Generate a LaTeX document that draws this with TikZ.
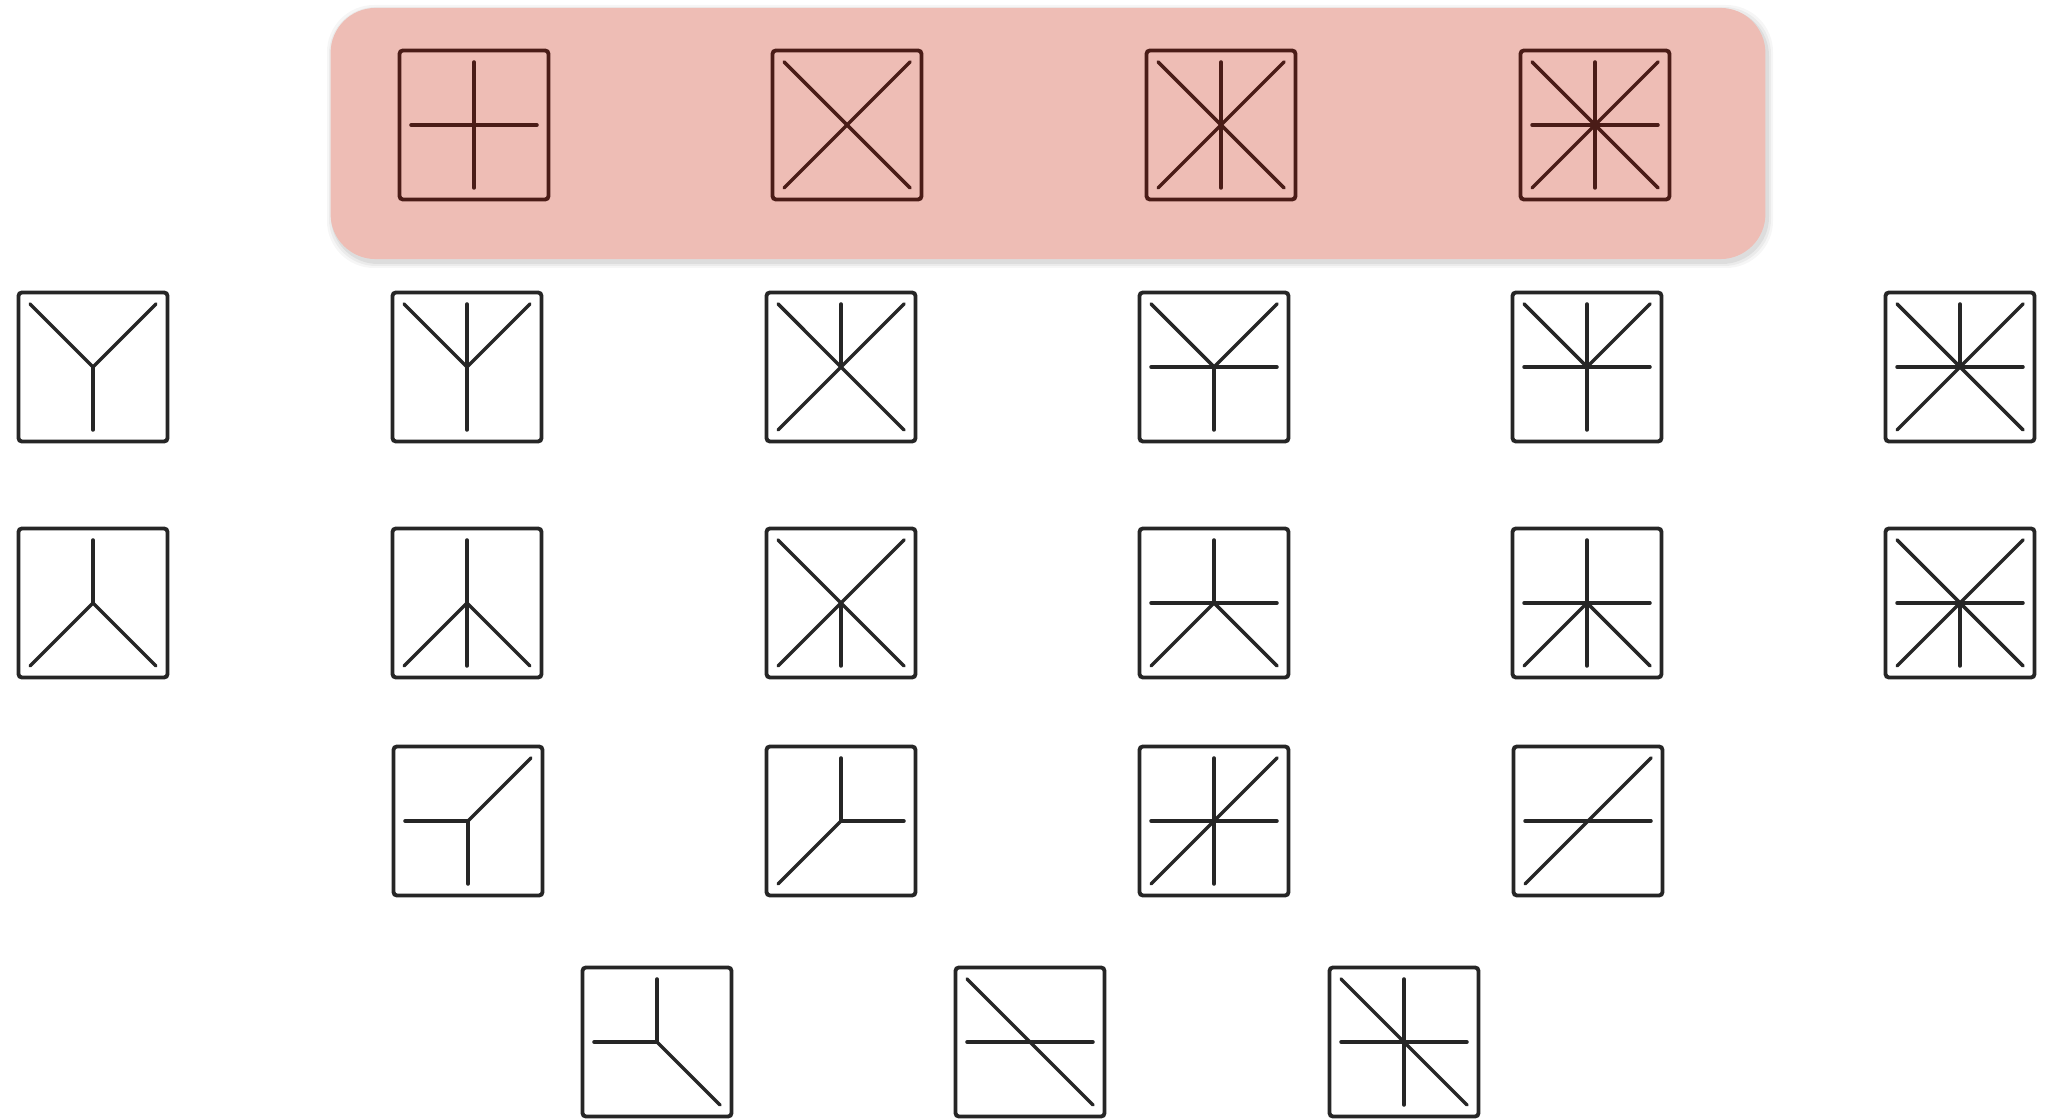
\documentclass[tikz,border=0pt]{standalone}
\usepackage{tikz}
\definecolor{pinkbg}{HTML}{EEBDB5}
\definecolor{topline}{HTML}{4A1C17}
\definecolor{inkline}{HTML}{262626}
\tikzset{
  glyph/.style={draw=inkline, line width=1.1pt, rounded corners=1pt,
    minimum width=1.49cm, minimum height=1.49cm, inner sep=0pt},
  topglyph/.style={glyph, draw=topline},
  arm/.style={draw=inkline, line width=1.0pt, line cap=round},
  toparm/.style={arm, draw=topline},
  bandbox/.style={fill=pinkbg, rounded corners=0.45cm, minimum width=14.34cm,
    minimum height=2.51cm, inner sep=0pt},
}
\newcommand{\armsof}[3]{%
  \foreach \a in {#3} {\draw[#1] (#2.center) -- ++({\a}:{63/max(abs(cos(\a)),abs(sin(\a)))});}%
}
\begin{document}
\begin{tikzpicture}[x=0.01cm,y=0.01cm]
\useasboundingbox (0,0) rectangle (2050,-1119);
% soft shadow of highlight band
\foreach \k/\o in {6/0.035,4/0.045,2/0.06}{
  \fill[black,opacity=\o,rounded corners=0.47cm] (331-\k+2,-8+\k-3) rectangle (1765+\k+2,-259-\k-3);
}
\node[bandbox] (band) at (1048,-133.5) {};
% top row
\node[topglyph] (t1) at (474,-125) {};
\node[topglyph] (t2) at (847,-125) {};
\node[topglyph] (t3) at (1221,-125) {};
\node[topglyph] (t4) at (1595,-125) {};
\armsof{toparm}{t1}{0,90,180,270}
\armsof{toparm}{t2}{45,135,225,315}
\armsof{toparm}{t3}{45,135,225,315,90,270}
\armsof{toparm}{t4}{0,45,90,135,180,225,270,315}
% row 2
\node[glyph] (a1) at (93,-367) {};
\node[glyph] (a2) at (467,-367) {};
\node[glyph] (a3) at (841,-367) {};
\node[glyph] (a4) at (1214,-367) {};
\node[glyph] (a5) at (1587,-367) {};
\node[glyph] (a6) at (1960,-367) {};
\armsof{arm}{a1}{135,45,270}
\armsof{arm}{a2}{135,45,90,270}
\armsof{arm}{a3}{45,135,225,315,90}
\armsof{arm}{a4}{135,45,0,180,270}
\armsof{arm}{a5}{135,45,90,0,180,270}
\armsof{arm}{a6}{45,135,225,315,90,0,180}
% row 3
\node[glyph] (b1) at (93,-603) {};
\node[glyph] (b2) at (467,-603) {};
\node[glyph] (b3) at (841,-603) {};
\node[glyph] (b4) at (1214,-603) {};
\node[glyph] (b5) at (1587,-603) {};
\node[glyph] (b6) at (1960,-603) {};
\armsof{arm}{b1}{90,225,315}
\armsof{arm}{b2}{90,270,225,315}
\armsof{arm}{b3}{45,135,225,315,270}
\armsof{arm}{b4}{90,0,180,225,315}
\armsof{arm}{b5}{90,270,0,180,225,315}
\armsof{arm}{b6}{45,135,225,315,0,180,270}
% row 4
\node[glyph] (c1) at (468,-821) {};
\node[glyph] (c2) at (841,-821) {};
\node[glyph] (c3) at (1214,-821) {};
\node[glyph] (c4) at (1588,-821) {};
\armsof{arm}{c1}{180,270,45}
\armsof{arm}{c2}{90,0,225}
\armsof{arm}{c3}{90,270,0,180,45,225}
\armsof{arm}{c4}{0,180,45,225}
% row 5
\node[glyph] (d1) at (657,-1042) {};
\node[glyph] (d2) at (1030,-1042) {};
\node[glyph] (d3) at (1404,-1042) {};
\armsof{arm}{d1}{90,180,315}
\armsof{arm}{d2}{0,180,135,315}
\armsof{arm}{d3}{90,270,0,180,135,315}
\end{tikzpicture}
\end{document}
